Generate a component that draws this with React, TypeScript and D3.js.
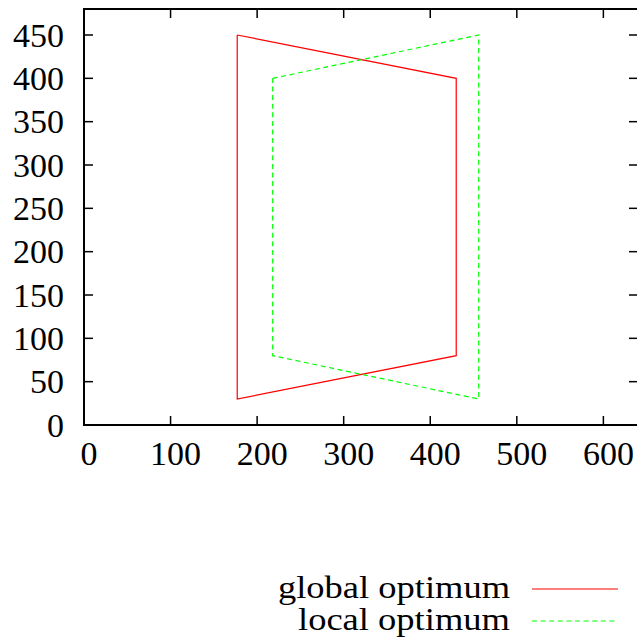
import React from "react";
import * as d3 from "d3";

const xTicks = [0, 100, 200, 300, 400, 500, 600];
const yTicks = [0, 50, 100, 150, 200, 250, 300, 350, 400, 450];
const seriesNames = ["global optimum", "local optimum"];
const globalX = [177, 430, 430, 177, 177];
const globalY = [450, 400, 80, 30, 450];
const localX = [218, 456, 456, 218, 218];
const localY = [400, 450, 30, 80, 400];
const colors = ["#ff0000", "#00ff00"];
const dashes = [null, "5,3.6"];

export default function App() {
  const W = 637, H = 641;
  const x = d3.scaleLinear().domain([0, 640]).range([84, 638]);
  const y = d3.scaleLinear().domain([0, 480]).range([425, 9]);
  const line = d3.line<[number, number]>().x(d => x(d[0])).y(d => y(d[1]));
  const series = [
    globalX.map((v, i) => [v, globalY[i]] as [number, number]),
    localX.map((v, i) => [v, localY[i]] as [number, number]),
  ];
  const font = "'Liberation Serif', 'Times New Roman', serif";
  const fs = 34;
  const tl = 9;
  const legendWidths = [232, 212];
  return (
    <svg width={W} height={H} style={{ position: "absolute", left: 0, top: 0, background: "#fff" }}
      fontFamily={font}>
      {series.map((s, i) => (
        <path key={i} d={line(s) || ""} fill="none" stroke={colors[i]} strokeWidth={1.2}
          strokeDasharray={dashes[i] || undefined} />
      ))}
      {xTicks.map(t => (
        <g key={"x" + t}>
          <line x1={x(t)} x2={x(t)} y1={y(0)} y2={y(0) - tl} stroke="#000" strokeWidth={1.5} />
          <line x1={x(t)} x2={x(t)} y1={y(480)} y2={y(480) + tl} stroke="#000" strokeWidth={1.5} />
          <text x={x(t) + 5} y={y(0) + 40} textAnchor="middle" fontSize={fs} fill="#000">{t}</text>
        </g>
      ))}
      {yTicks.map(t => (
        <g key={"y" + t}>
          <line x1={x(0)} x2={x(0) + tl} y1={y(t)} y2={y(t)} stroke="#000" strokeWidth={1.5} />
          <line x1={x(640)} x2={x(640) - tl} y1={y(t)} y2={y(t)} stroke="#000" strokeWidth={1.5} />
          <text x={64} y={y(t)} dy="0.34em" textAnchor="end" fontSize={fs} fill="#000">{t}</text>
        </g>
      ))}
      <rect x={x(0)} y={y(480)} width={x(640) - x(0) + 2} height={y(0) - y(480)} fill="none"
        stroke="#000" strokeWidth={2} />
      {seriesNames.map((n, i) => (
        <g key={n}>
          <text x={510 - legendWidths[i]} y={598 + i * 32} fontSize={31} fill="#000"
            textLength={legendWidths[i]} lengthAdjust="spacingAndGlyphs">{n}</text>
          <line x1={532} x2={618} y1={589 + i * 32} y2={589 + i * 32} stroke={colors[i]} strokeWidth={1.2}
            strokeDasharray={dashes[i] || undefined} />
        </g>
      ))}
    </svg>
  );
}
